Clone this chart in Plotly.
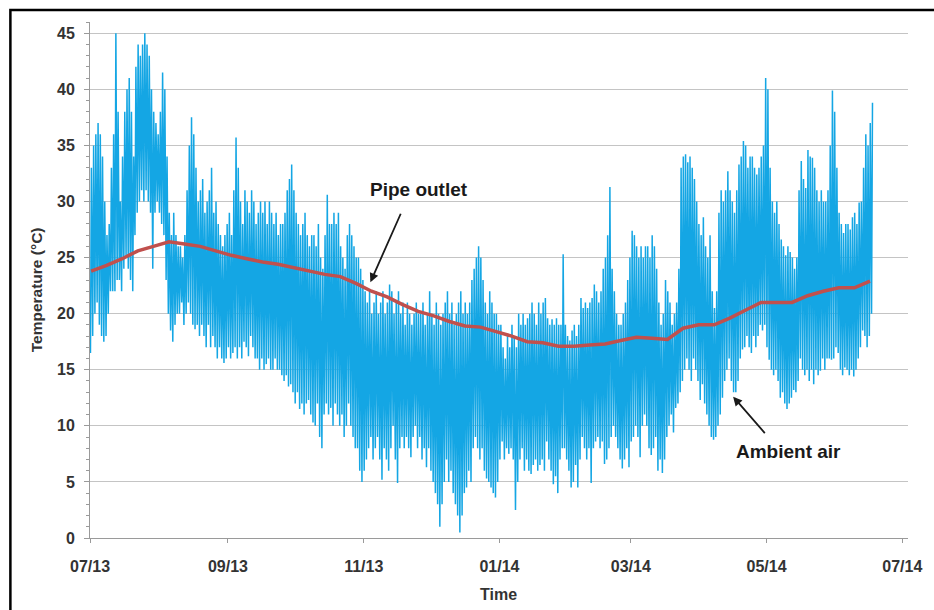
import pandas as pd
import plotly.graph_objects as go

# Daily ambient air extremes (°C), one value per day starting 2013-07-01
air_max = [
    33, 35, 36, 37, 36, 34, 30, 27, 28, 33,
    36, 45, 38, 30, 34, 38, 40, 41, 38, 34,
    42, 44, 43, 44, 45, 44, 43, 40, 38, 37,
    36, 38, 41.5, 40, 34, 29, 27, 29, 27, 26,
    26, 25, 27, 31, 35, 37.5, 36, 33, 30, 31,
    32, 29, 30, 31, 33, 29, 30, 28, 27, 26,
    27, 28, 29, 27, 31, 35.7, 33, 30, 28, 31,
    30, 29, 31, 30, 28, 29, 30, 29, 30, 28,
    30, 29, 28, 29, 27, 28, 28, 29, 31, 32,
    33.3, 31, 29, 28, 27, 28, 29, 27, 26, 27,
    27, 26, 28, 25, 24, 27, 30.6, 28, 28, 29,
    28, 29, 26, 25, 24, 27, 28, 27, 26, 25,
    25, 24, 23, 22, 21, 22, 20, 21, 22, 20,
    21, 22, 20, 21, 22.6, 22, 20, 21, 22, 20,
    21, 19, 21, 20, 19, 20, 21, 20, 20, 21,
    19, 20, 22, 20, 19, 21, 20, 19, 20, 21,
    22, 20, 21, 19, 20, 21, 22, 20, 21, 20,
    21, 23, 24, 25, 26, 25, 23, 21, 20, 22,
    21, 20, 20, 19, 19, 17, 16, 18, 17, 19,
    18, 17, 20, 19, 20, 19, 19.6, 20, 21, 20,
    19, 21, 20, 21, 21.4, 19.6, 19, 19.5, 19, 19.6,
    19, 19, 25.3, 19, 18, 17.6, 18.5, 19, 18, 19,
    21.4, 20.5, 21, 20.5, 21, 21.4, 22.6, 22, 21, 22,
    24, 25, 27, 31.3, 24, 22, 20, 19, 19, 20,
    21, 23, 25, 27.4, 27, 26, 25, 26, 25, 26,
    26, 25, 27, 26, 24, 21, 19, 20, 23, 22,
    21, 19, 20, 21, 24, 33, 34, 34.2, 33.5, 34,
    33, 32, 30, 28, 27, 28.6, 26, 25, 27, 22,
    20.5, 22, 29, 31, 30, 31, 32.7, 31, 30, 29,
    31, 33.3, 34, 35.4, 35, 33, 34, 34, 33, 32.4,
    33, 34, 35, 41, 40, 33, 30, 29, 30, 28,
    26.6, 26, 25.2, 26, 25.5, 25, 24, 25, 31, 33.6,
    32, 31.2, 34.6, 34, 33.9, 33, 31, 30, 31, 30,
    30, 31, 35, 39.9, 38, 33, 29, 28, 27.2, 28,
    28, 27.5, 28.6, 29, 28, 29.9, 30, 33, 36, 35, 37, 38.8,
]

air_min = [
    16.5, 18, 20, 21, 19, 18, 17.5, 18, 20, 22,
    22, 22, 23, 23, 22, 24, 25, 24, 23, 22,
    27, 29, 30, 31, 30, 31, 30, 29, 24, 29,
    30, 29, 28, 27, 23, 20, 18.5, 17.5, 19, 20,
    20, 21, 19, 20, 21, 20, 19, 18.6, 19, 18,
    19, 18, 17, 19, 17, 18, 17, 16, 17, 16,
    15.6, 16, 17, 16, 16.5, 17, 16, 17, 16, 17.5,
    17, 16.2, 18, 17, 16, 16, 15, 16, 15, 15.5,
    16, 15, 15, 16, 15, 15, 14.5, 14, 14.5, 13.5,
    13.7, 13, 12, 13, 11.5, 12, 11, 12, 12.3, 11,
    10.3, 10, 12, 9, 8, 11, 12, 11, 11.6, 10,
    12, 11, 10, 11, 9, 10, 12, 10, 9, 8,
    8, 6, 5, 6, 7, 8, 9, 7, 8, 9,
    7, 5.2, 8, 7, 6, 8, 10, 7, 4.9, 8,
    9, 8, 9, 8, 7.2, 9, 10, 8, 9, 7,
    8, 6.3, 8, 6, 5, 4, 3, 1, 3, 5,
    7, 5, 6, 4, 3, 2, 0.5, 2, 4, 4.5,
    6, 5, 8, 9, 8, 7, 8, 6, 5.3, 5,
    4.5, 4, 3.6, 5, 7, 8.6, 7, 8, 7.5, 8,
    7, 2.5, 5, 7, 8, 6, 7, 6, 5.7, 6.5,
    7, 6, 6.5, 7, 6, 8.6, 7, 6, 4.8, 5.5,
    4, 7, 8, 8, 7, 6, 4.5, 5, 6.5, 4.5,
    7, 9, 8, 7, 8, 4.9, 8, 8.6, 9, 8,
    8.6, 6.6, 7, 8, 9, 10, 9, 8, 7, 6.2,
    7, 8, 6.3, 8.6, 9, 10, 9, 7.2, 10, 11,
    10, 8, 7.4, 8, 9, 6, 7, 5.8, 7, 9,
    10, 11, 9.4, 11.6, 12, 13, 14, 15, 16, 15,
    14, 16, 15, 14, 12.3, 13.7, 12, 11, 10, 9,
    8.75, 9, 10, 11, 12.5, 14, 15, 16, 14, 13,
    13, 14, 16, 16.8, 17, 18, 17, 16.5, 18, 17,
    18, 19, 18.5, 19, 17, 15.9, 15, 14.5, 15, 14,
    12.5, 13, 12, 11.5, 12, 12.5, 13.2, 13, 14, 16,
    15, 14.5, 15, 14, 15, 13.7, 15, 14.5, 14.9, 16,
    15, 16, 16, 15.9, 16, 17, 16.5, 15, 14.5, 15.2,
    15, 14.5, 15, 14.4, 15, 16, 17, 18.5, 18, 17, 18, 20,
]

# Weekly pipe outlet temperature (°C), starting 2013-07-01
pipe_outlet = [
    23.8, 24.3, 24.9, 25.6, 26.0, 26.4, 26.2, 26.0, 25.6, 25.2,
    24.9, 24.6, 24.4, 24.1, 23.8, 23.5, 23.3, 22.7, 22.0, 21.5,
    20.8, 20.2, 19.8, 19.3, 18.9, 18.8, 18.4, 18.0, 17.5, 17.4,
    17.1, 17.1, 17.2, 17.3, 17.6, 17.9, 17.8, 17.7, 18.7, 19.0,
    19.0, 19.6, 20.3, 21.0, 21.0, 21.0, 21.6, 22.0, 22.3, 22.3,
    22.9,
]

tick_labels = ["07/13", "09/13", "11/13", "01/14", "03/14", "05/14", "07/14"]

start = pd.Timestamp("2013-07-01")
days = pd.date_range(start, periods=len(air_max), freq="D")

# Ambient trace: overnight minimum then afternoon maximum for each day
air_t, air_v = [], []
for d, lo, hi in zip(days, air_min, air_max):
    air_t += [d + pd.Timedelta(hours=5), d + pd.Timedelta(hours=15)]
    air_v += [lo, hi]

pipe_t = pd.date_range(start + pd.Timedelta(hours=12), periods=len(pipe_outlet), freq="7D")
tick_vals = pd.date_range(start, periods=len(tick_labels), freq="2MS")

# plot-area geometry in pixels, used to place page decorations
L, R, T, B = 90, 912, 22, 538
W, H = 934, 610


def px(x):
    return (x - L) / (R - L)


def py(y):
    return (B - y) / (B - T)


FONT = "Liberation Sans, Arial, sans-serif"
INK = "#333333"
AXIS = "#9a9a9a"

fig = go.Figure()
fig.add_trace(go.Scatter(
    x=air_t, y=air_v, mode="lines", name="Ambient air",
    line=dict(color="#14a6e4", width=1.5), hoverinfo="skip",
))
fig.add_trace(go.Scatter(
    x=pipe_t, y=pipe_outlet, mode="lines", name="Pipe outlet",
    line=dict(color="#c0504d", width=3.5), hoverinfo="skip",
))

fig.update_layout(
    width=W, height=H,
    margin=dict(l=L, r=W - R, t=T, b=H - B),
    paper_bgcolor="white", plot_bgcolor="white",
    showlegend=False,
    font=dict(family=FONT, color=INK),
)

fig.update_xaxes(
    type="date",
    range=[start, pd.Timestamp("2014-07-03 14:00")],
    tickvals=tick_vals, ticktext=tick_labels,
    ticks="outside", ticklen=4, tickcolor=AXIS,
    showline=True, linecolor=AXIS, linewidth=1,
    showgrid=False, zeroline=False,
    tickfont=dict(size=16, weight="bold", color=INK),
    ticklabelstandoff=10,
)
fig.update_yaxes(
    range=[0, 46], tick0=0, dtick=5,
    ticks="outside", ticklen=5, tickcolor=AXIS,
    showline=True, linecolor=AXIS, linewidth=1,
    showgrid=True, gridcolor="#c4c4c4", gridwidth=1,
    zeroline=False,
    minor=dict(dtick=1, ticks="outside", ticklen=3, tickcolor=AXIS, showgrid=False),
    tickfont=dict(size=16, weight="bold", color=INK),
    ticklabelstandoff=6,
)

# axis titles
fig.add_annotation(
    text="Temperature (°C)", xref="paper", yref="paper",
    x=px(36), y=py(290), xanchor="center", yanchor="middle",
    textangle=-90, showarrow=False,
    font=dict(size=15.5, weight="bold", color=INK),
)
fig.add_annotation(
    text="Time", xref="paper", yref="paper",
    x=px(500), y=py(594), xanchor="center", yanchor="middle",
    showarrow=False,
    font=dict(size=16, weight="bold", color=INK),
)

# series labels with pointer arrows
fig.add_annotation(
    text="Pipe outlet", x=pd.Timestamp("2013-11-26"), y=31.1,
    showarrow=False, font=dict(size=19, weight="bold", color="#1a1a1a"),
)
fig.add_annotation(
    text="", x=pd.Timestamp("2013-11-04"), y=22.8,
    ax=31, ay=-70, showarrow=True,
    arrowhead=2, arrowsize=1, arrowwidth=1.8, arrowcolor="#1a1a1a",
)
fig.add_annotation(
    text="Ambient air", x=pd.Timestamp("2014-05-11"), y=7.7,
    showarrow=False, font=dict(size=19, weight="bold", color="#1a1a1a"),
)
fig.add_annotation(
    text="", x=pd.Timestamp("2014-04-16"), y=12.6,
    ax=33, ay=38, showarrow=True,
    arrowhead=2, arrowsize=1, arrowwidth=1.8, arrowcolor="#1a1a1a",
)

# outer frame
fig.add_shape(
    type="rect", xref="paper", yref="paper",
    x0=px(10), y0=py(680), x1=px(1000), y1=py(10),
    line=dict(color="black", width=2.5), fillcolor="rgba(0,0,0,0)", layer="above",
)

fig.write_html("out.html")
